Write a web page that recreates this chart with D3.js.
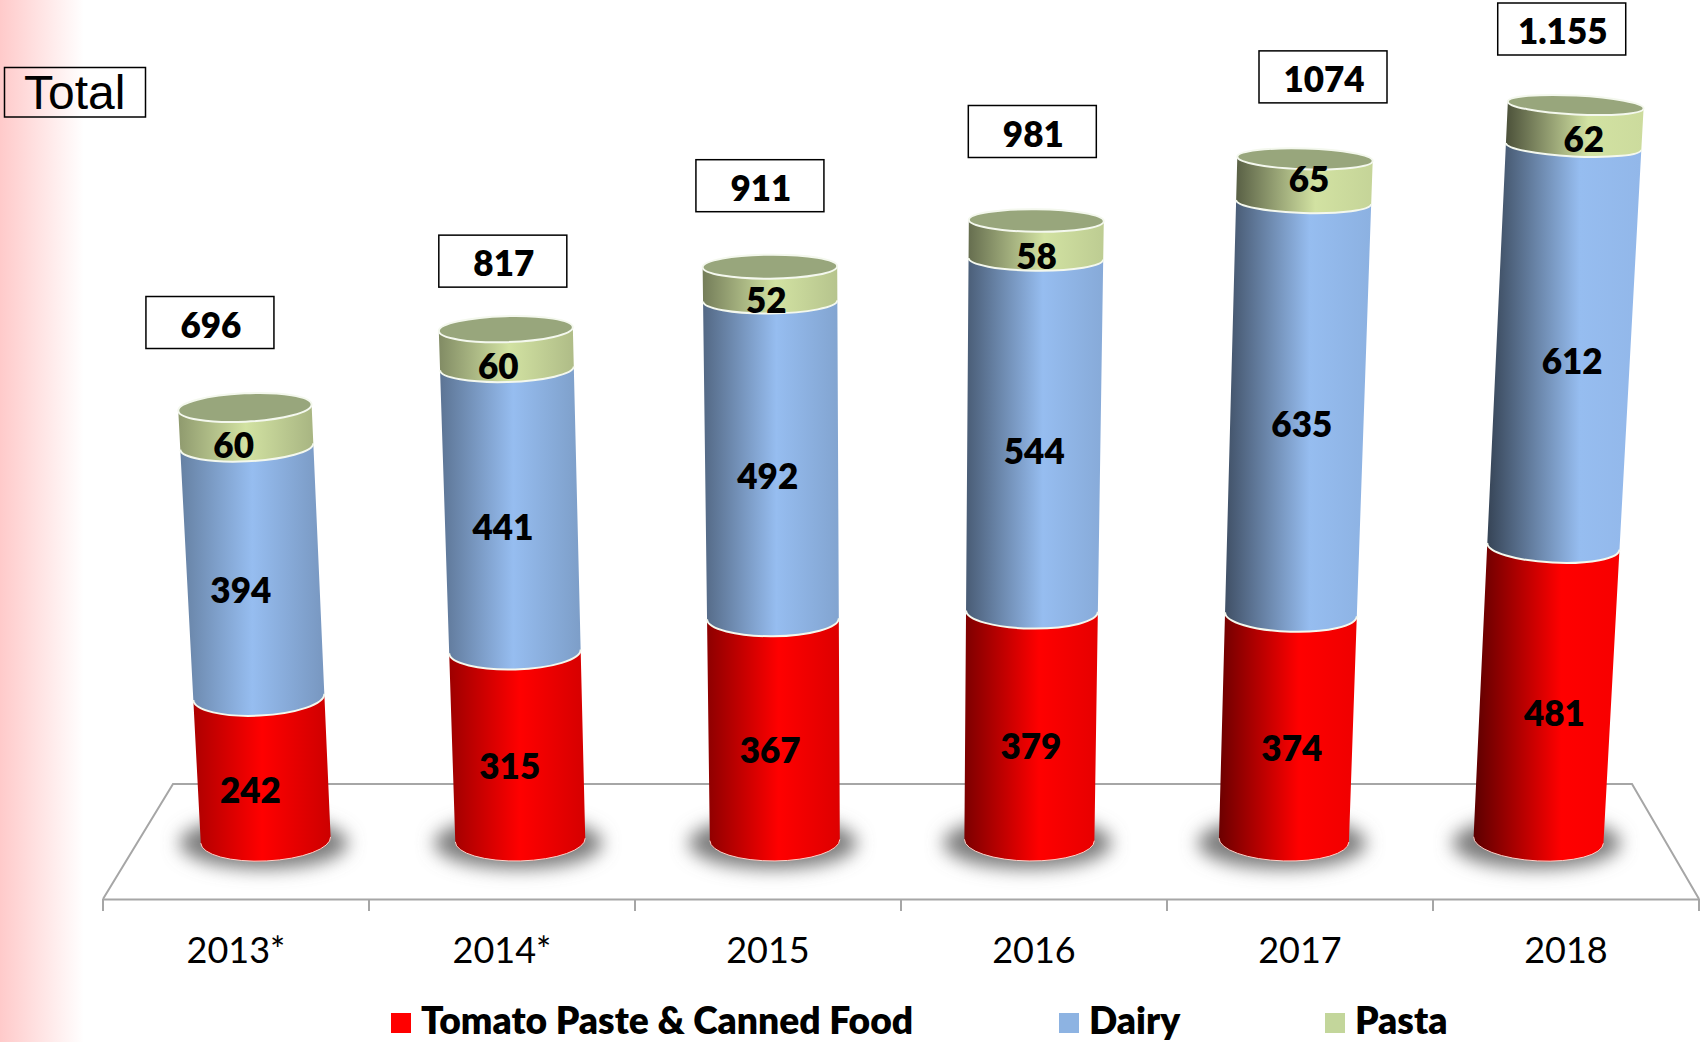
<!DOCTYPE html>
<html>
<head>
<meta charset="utf-8">
<script src="https://d3js.org/d3.v7.min.js"></script>
<style>
  html, body { margin: 0; padding: 0; background: #fff; }
  svg { display: block; }
  text { font-family: Lato, "Open Sans", sans-serif; fill: #000; }
  .value { font-weight: 800; font-size: 35px; text-anchor: middle; }
  .axis text { font-size: 36px; }
  .legend text { font-weight: 800; font-size: 37.2px; }
</style>
</head>
<body>
<script>
const years = ["2013*", "2014*", "2015", "2016", "2017", "2018"];
const tomato = [242, 315, 367, 379, 374, 481];
const dairy = [394, 441, 492, 544, 635, 612];
const pasta = [60, 60, 52, 58, 65, 62];
const totalLabels = ["696", "817", "911", "981", "1074", "1.155"];
const seriesNames = ["Tomato Paste & Canned Food", "Dairy", "Pasta"];

const width = 1702, height = 1042;
const sideColors = ["#ff0000", "#96bdf0", "#d2e2a2"];
const legendColors = ["#ff0000", "#8db3e2", "#c3d69b"];
const lidColor = "#98a67c";
const floorColor = "#a6a6a6";

// where the total boxes sit, relative to the top of each cylinder
const boxNudge = [[-35, -85], [-3, -68], [-10, -81], [-4, -89], [18, -82], [-14, -76]];
// the pasta labels were placed by hand in the original
const pastaLabelDy = [2, 3, 3, 4, -13, 2];

const vanishX = 885, leanDepth = 12909;

const svg = d3.select("body").append("svg")
  .attr("width", width)
  .attr("height", height);

const defs = svg.append("defs");

const pink = defs.append("linearGradient").attr("id", "pink");
pink.append("stop").attr("offset", 0).attr("stop-color", "#ffcaca");
pink.append("stop").attr("offset", 1).attr("stop-color", "#ffffff");

defs.append("filter").attr("id", "blur")
  .attr("x", "-30%").attr("y", "-60%").attr("width", "160%").attr("height", "220%")
  .append("feGaussianBlur").attr("stdDeviation", 9);

svg.append("rect")
  .attr("width", 84)
  .attr("height", height)
  .attr("fill", "url(#pink)");

const yScale = d3.scalePow().exponent(1.047)
  .domain([0, 1155])
  .range([840, 105]);

// categories on the front edge of the floor
const xAxisScale = d3.scaleBand().domain(years).range([103, 1699]);
// the cylinders stand further back, so their spacing is tighter
const xBase = d3.scaleBand().domain(years).range([138.4, 1665.8]);

// the floor
const floorLine = d3.line();
svg.append("path")
  .attr("d", floorLine([[103, 899], [173, 784], [1632, 784], [1699, 899]]))
  .attr("fill", "none")
  .attr("stroke", floorColor)
  .attr("stroke-width", 2);

const axis = d3.axisBottom(xAxisScale).tickSize(0).tickPadding(38);
const axisG = svg.append("g")
  .attr("class", "axis")
  .attr("transform", "translate(0,899)")
  .call(axis);
axisG.select(".domain")
  .attr("stroke", floorColor)
  .attr("stroke-width", 2);
axisG.selectAll("text").attr("font-family", null).attr("font-size", null);

svg.append("g")
  .selectAll("line")
  .data(d3.range(years.length + 1))
  .join("line")
  .attr("x1", (i) => 103 + i * xAxisScale.bandwidth())
  .attr("x2", (i) => 103 + i * xAxisScale.bandwidth())
  .attr("y1", 899)
  .attr("y2", 911)
  .attr("stroke", floorColor)
  .attr("stroke-width", 2);

// geometry of a cylinder slice at a given cumulative value
const slice = (i, v) => {
  const xb = xBase(years[i]) + xBase.bandwidth() / 2;
  const lean = (xb - vanishX) / leanDepth;
  const cy = yScale(v);
  const cx = xb + lean * (840 - cy);
  const rx = 65 + (840 - cy) * 0.004;
  const ry = 9.5 + (cy - 105) * 0.0156;
  const angle = Math.atan(lean);
  return {
    cx, cy, rx, ry, angle,
    deg: angle * 180 / Math.PI,
    low: cy + ry,
    lx: cx - rx * Math.cos(angle), ly: cy - rx * Math.sin(angle),
    rx2: cx + rx * Math.cos(angle), ry2: cy + rx * Math.sin(angle)
  };
};

// side of a slice: both ends follow the front half of their ellipse
const bodyPath = (a, b) => `M${a.lx},${a.ly} L${b.lx},${b.ly} ` +
  `A${b.rx},${b.ry} ${b.deg} 0 0 ${b.rx2},${b.ry2} ` +
  `L${a.rx2},${a.ry2} ` +
  `A${a.rx},${a.ry} ${a.deg} 0 1 ${a.lx},${a.ly} Z`;

const gradient = (id, base, i) => {
  const t = i / (years.length - 1);
  const g = defs.append("linearGradient").attr("id", id);
  const dark = d3.interpolateRgb(base, "#000");
  g.append("stop").attr("offset", 0).attr("stop-color", dark(0.32 + 0.32 * t));
  g.append("stop").attr("offset", 0.5 + 0.1 * t).attr("stop-color", base);
  g.append("stop").attr("offset", 1).attr("stop-color", dark(0.2 - 0.17 * t));
};

years.forEach((year, i) => {
  const stack = [tomato[i], dairy[i], pasta[i]];
  const bottom = slice(i, 0);

  svg.append("ellipse")
    .attr("cx", bottom.cx - 2)
    .attr("cy", bottom.cy + 3)
    .attr("rx", 84)
    .attr("ry", 26)
    .attr("fill", "#7c7c7c")
    .attr("filter", "url(#blur)");

  let sum = 0;
  stack.forEach((v, k) => {
    const a = slice(i, sum);
    const b = slice(i, sum + v);
    const id = `side-${i}-${k}`;
    gradient(id, sideColors[k], i);

    svg.append("path")
      .attr("d", bodyPath(a, b))
      .attr("fill", `url(#${id})`);

    // thin light rim along the front edge of each slice
    svg.append("path")
      .attr("d", `M${a.lx},${a.ly} A${a.rx},${a.ry} ${a.deg} 0 0 ${a.rx2},${a.ry2}`)
      .attr("fill", "none")
      .attr("stroke", k == 0 ? "#ffd0c8" : "#f4f8ee")
      .attr("stroke-width", k == 0 ? 1 : 2);

    sum += v;
  });

  const top = slice(i, sum);
  svg.append("ellipse")
    .attr("transform", `translate(${top.cx},${top.cy}) rotate(${top.deg})`)
    .attr("rx", top.rx)
    .attr("ry", top.ry)
    .attr("fill", lidColor)
    .attr("stroke", "#f4f8ee")
    .attr("stroke-width", 2);

  // value labels, centred on the visible front of each slice
  sum = 0;
  stack.forEach((v, k) => {
    const a = slice(i, sum);
    const b = slice(i, sum + v);
    svg.append("text")
      .attr("class", "value")
      .attr("x", (a.cx + b.cx) / 2 + (a.cx - vanishX) * 0.016 - 2)
      .attr("y", (a.low + b.low) / 2 + 2 + (k == 2 ? pastaLabelDy[i] : 0))
      .attr("dy", ".35em")
      .text(v);
    sum += v;
  });

  // total box
  const bx = top.cx + boxNudge[i][0], by = top.cy + boxNudge[i][1];
  svg.append("rect")
    .attr("x", bx - 64)
    .attr("y", by - 26)
    .attr("width", 128)
    .attr("height", 52)
    .attr("fill", "#fff")
    .attr("stroke", "#000")
    .attr("stroke-width", 1.5);
  svg.append("text")
    .attr("class", "value")
    .attr("x", bx + 1)
    .attr("y", by + 3)
    .attr("dy", ".35em")
    .text(totalLabels[i]);
});

svg.append("rect")
  .attr("x", 4.5)
  .attr("y", 67.5)
  .attr("width", 141)
  .attr("height", 49.5)
  .attr("fill", "none")
  .attr("stroke", "#000")
  .attr("stroke-width", 1.5);
svg.append("text")
  .attr("x", 24)
  .attr("y", 109)
  .style("font-family", "'Liberation Sans', Arial, sans-serif")
  .style("font-size", "48px")
  .text("Total");

// legend
const legendX = [391, 1059, 1325];
const legend = svg.append("g").attr("class", "legend")
  .selectAll("g")
  .data(seriesNames)
  .join("g")
  .attr("transform", (d, i) => `translate(${legendX[i]},1013)`);
legend.append("rect")
  .attr("width", 20)
  .attr("height", 20)
  .attr("fill", (d, i) => legendColors[i]);
legend.append("text")
  .attr("x", 30)
  .attr("y", 20.5)
  .text((d) => d);
</script>
</body>
</html>
